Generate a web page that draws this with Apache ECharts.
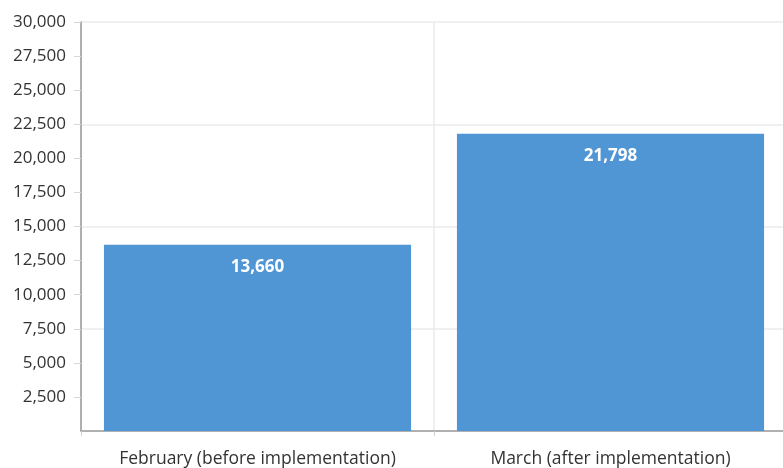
<!DOCTYPE html>
<html><head><meta charset="utf-8">
<script src="https://cdn.jsdelivr.net/npm/echarts@6/dist/echarts.min.js"></script>
<style>html,body{margin:0;padding:0;background:#fff;overflow:hidden}#c{width:787px;height:468px}</style>
</head><body><div id="c"></div>
<script>
const categories = ["February (before implementation)", "March (after implementation)"];
const values = [13660, 21798];
const yMin = 0, yMax = 30000, yStep = 2500, gridStep = 7500;

const chart = echarts.init(document.getElementById('c'), null, {renderer: 'canvas'});
const font = "'Open Sans', sans-serif";
chart.setOption({
  animation: false,
  grid: {left: 81, right: 0, top: 22, bottom: 37},
  xAxis: {
    type: 'category', data: categories,
    axisLine: {lineStyle: {color: '#9a9a9a', width: 1.5}},
    axisTick: {show: true, length: 5, interval: 0, lineStyle: {color: '#d0d0d0'}},
    axisLabel: {color: '#333', fontFamily: font, fontSize: 17.5, margin: 19, interval: 0},
    splitLine: {show: true, interval: 0, lineStyle: {color: '#ebebeb', width: 1.5}}
  },
  yAxis: [{
    type: 'value', min: yMin, max: yMax, interval: yStep,
    axisLine: {show: true, lineStyle: {color: '#9a9a9a', width: 1.5}},
    axisTick: {show: true, length: 7, lineStyle: {color: '#d8d8d8'}},
    axisLabel: {color: '#333', fontFamily: font, fontSize: 17, margin: 15,
      showMinLabel: false,
      formatter: v => v === 0 ? '' : v.toLocaleString('en-US')},
    splitLine: {show: false}
  }, {
    type: 'value', min: yMin, max: yMax, interval: gridStep, position: 'left',
    axisLine: {show: false}, axisTick: {show: false}, axisLabel: {show: false},
    splitLine: {show: true, lineStyle: {color: '#ebebeb', width: 1.5}}
  }],
  series: [{
    type: 'bar', data: values, yAxisIndex: 0,
    barCategoryGap: '13%',
    itemStyle: {color: '#5096d5'},
    label: {show: true, position: 'insideTop', distance: 14, color: '#fff',
      fontFamily: font, fontWeight: 'bold', fontSize: 17,
      formatter: p => p.value.toLocaleString('en-US')}
  }]
});
</script></body></html>
